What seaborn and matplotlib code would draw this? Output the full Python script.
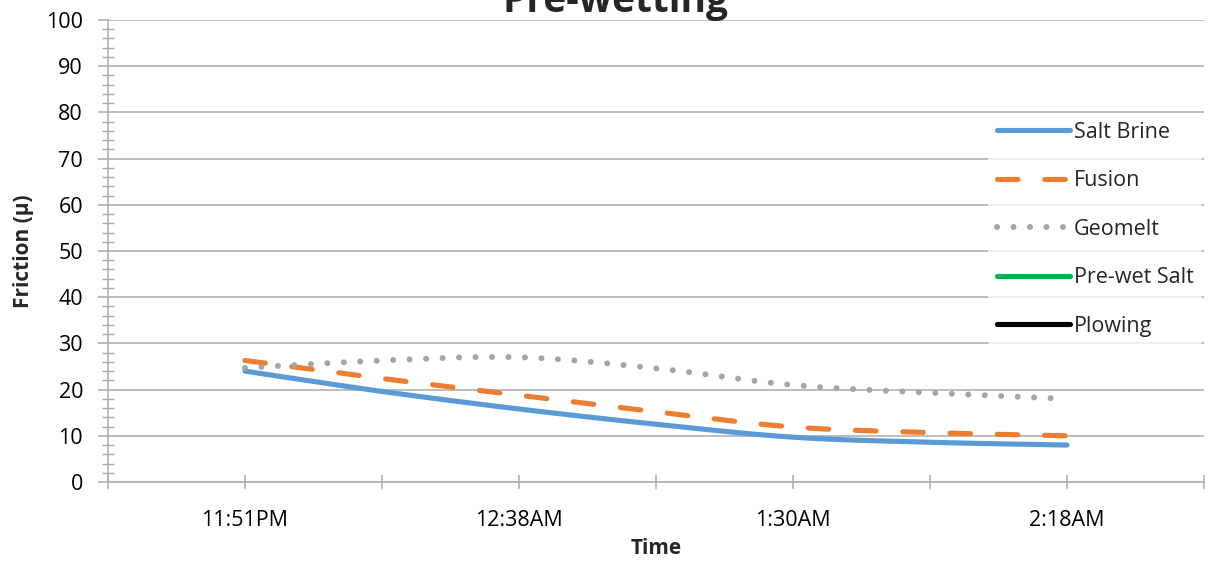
import numpy as np
import pandas as pd
import matplotlib
matplotlib.use("Agg")
import matplotlib.pyplot as plt
import seaborn as sns

# Friction readings per time slot (slot 0 and 8 are empty padding categories)
slots = [1, 2, 3, 4, 5, 6, 7]
salt_brine = [24.0, 19.6, 15.8, 12.5, 9.7, 8.6, 8.0]
fusion = [26.3, 22.4, 18.8, 15.2, 11.9, 10.7, 10.0]
geomelt = [24.7, 26.3, 27.0, 24.6, 21.0, 19.3, 18.0]
prewet_salt = []
plowing = []
tick_labels = ["", "11:51PM", "", "12:38AM", "", "1:30AM", "", "2:18AM", ""]


def smooth(xs, ys, n=40):
    """Bezier smoothing with Catmull-Rom style control points."""
    xs = np.asarray(xs, float)
    ys = np.asarray(ys, float)
    if len(xs) < 2:
        return xs, ys
    px = np.concatenate([[xs[0]], xs, [xs[-1]]])
    py = np.concatenate([[ys[0]], ys, [ys[-1]]])
    out_x, out_y = [], []
    t = np.linspace(0, 1, n)
    for i in range(1, len(px) - 2):
        p0 = np.array([px[i], py[i]])
        p3 = np.array([px[i + 1], py[i + 1]])
        c1 = p0 + (np.array([px[i + 1], py[i + 1]]) - np.array([px[i - 1], py[i - 1]])) / 6
        c2 = p3 - (np.array([px[i + 2], py[i + 2]]) - np.array([px[i], py[i]])) / 6
        b = ((1 - t) ** 3)[:, None] * p0 + (3 * (1 - t) ** 2 * t)[:, None] * c1 \
            + (3 * (1 - t) * t ** 2)[:, None] * c2 + (t ** 3)[:, None] * p3
        if i > 1:
            b = b[1:]
        out_x.extend(b[:, 0])
        out_y.extend(b[:, 1])
    return np.array(out_x), np.array(out_y)


sns.set_theme(style="white")
plt.rcParams["font.family"] = ["Open Sans", "DejaVu Sans"]

fig = plt.figure(figsize=(12.17, 5.63), dpi=100)
ax = fig.add_axes([108 / 1217, 81 / 563, 1096 / 1217, 462 / 563])

LW = 3.7
series = [
    ("Salt Brine", salt_brine, "#5B9BD5", "-", LW),
    ("Fusion", fusion, "#ED7D31", (0, (4.0, 5.2)), LW),
    ("Geomelt", geomelt, "#A5A5A5", (0, (0.01, 2.75)), 4.3),
]

for name, vals, color, ls, lw in series:
    sx, sy = smooth(slots, vals)
    df = pd.DataFrame({"x": sx, "y": sy})
    sns.lineplot(data=df, x="x", y="y", ax=ax, sort=False, estimator=None,
                 color=color, linewidth=lw, label=name)
    line = ax.lines[-1]
    line.set_linestyle(ls)
    line.set_solid_capstyle("round")
    line.set_dash_capstyle("round")

ax.plot(prewet_salt, prewet_salt, color="#00B050", linewidth=LW,
        solid_capstyle="round", label="Pre-wet Salt")
ax.plot(plowing, plowing, color="#000000", linewidth=LW,
        solid_capstyle="round", label="Plowing")

ax.set_xlim(0, 8)
ax.set_ylim(0, 100)
ax.set_xticks(range(9))
ax.set_xticklabels(tick_labels)
ax.set_yticks(range(0, 101, 10))
ax.set_yticks(range(0, 101, 2), minor=True)

grid_c = "#ABABAB"
ax.yaxis.grid(True, color=grid_c, linewidth=1.1)
ax.xaxis.grid(False)
ax.set_axisbelow(True)
for s in ["top", "right"]:
    ax.spines[s].set_visible(False)
for s in ["left", "bottom"]:
    ax.spines[s].set_color(grid_c)
    ax.spines[s].set_linewidth(1.1)

ax.tick_params(axis="y", which="major", direction="out", length=7, width=1.1,
               color=grid_c, labelsize=15.5, pad=11, labelcolor="black", left=True)
ax.tick_params(axis="y", which="minor", direction="inout", length=9, width=1.0,
               color=grid_c, left=True)
ax.tick_params(axis="x", which="major", direction="inout", length=10, width=1.1,
               color=grid_c, labelsize=15.5, pad=15, labelcolor="black", bottom=True)

ax.set_xlabel("Time", fontsize=15, fontweight="bold", labelpad=5.5)
ax.set_ylabel("Friction (\u00b5)", fontsize=15, fontweight="bold", labelpad=8.5)

fig.text(616 / 1217, 1.0 - 12 / 563, "Pre-wetting", ha="center", va="baseline",
         fontsize=28, fontweight="bold")

leg = ax.legend(loc="upper left", bbox_to_anchor=(988 / 1217, 1 - 113 / 563),
                bbox_transform=fig.transFigure, frameon=True, framealpha=0.75,
                edgecolor="none", facecolor="white", fontsize=15.5,
                handlelength=3.4, handletextpad=0.2, labelspacing=1.28,
                borderpad=0.4, borderaxespad=0)

fig.savefig("out.png", dpi=100)
